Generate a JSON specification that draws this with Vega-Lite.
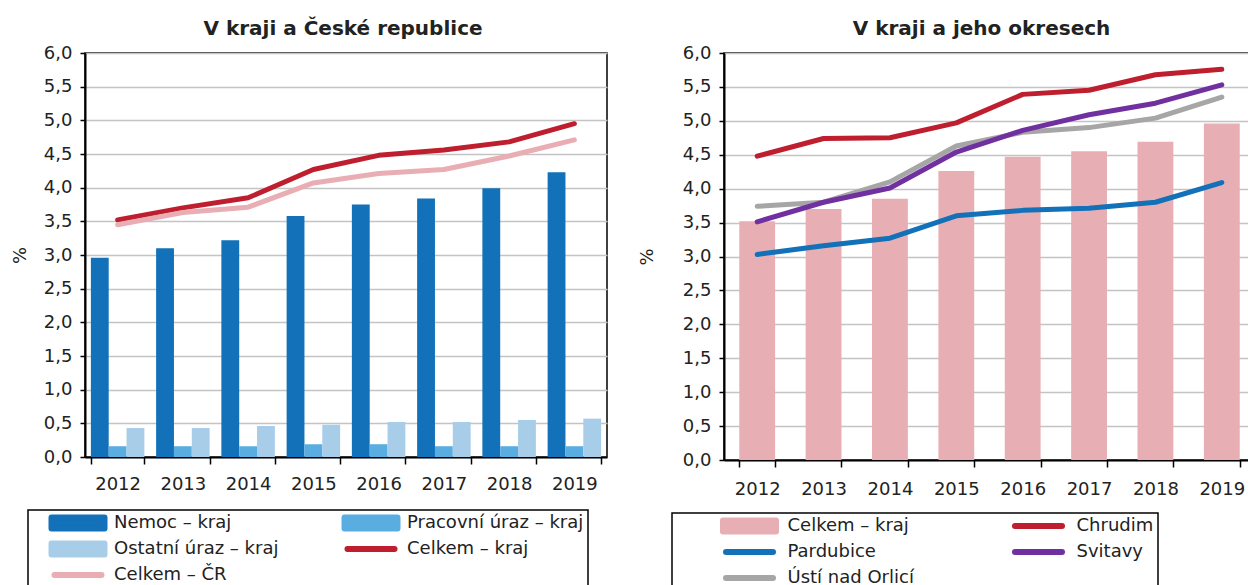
{
  "$schema": "https://vega.github.io/schema/vega-lite/v6.json",
  "background": "white",
  "padding": {"left": 10, "top": 18, "right": 0, "bottom": 0},
  "autosize": {"type": "pad"},
  "spacing": 29,
  "resolve": {"scale": {"color": "independent", "x": "independent", "y": "independent"}, "legend": {"color": "independent"}},
  "config": {
    "font": "DejaVu Sans",
    "view": {"stroke": "black", "strokeWidth": 1.5},
    "axis": {
      "labelFont": "DejaVu Sans", "labelFontSize": 18, "labelColor": "#222",
      "titleFont": "DejaVu Sans", "titleFontSize": 18, "titleFontWeight": "normal", "titleColor": "#222",
      "domainColor": "black", "domainWidth": 2, "tickColor": "black", "tickWidth": 1.5, "labelOverlap": false
    },
    "title": {"font": "DejaVu Sans", "fontSize": 20, "fontWeight": "bold", "color": "#222", "frame": "group", "anchor": "middle"},
    "legend": {"labelFont": "DejaVu Sans", "labelFontSize": 18, "labelColor": "#222", "labelLimit": 600, "labelBaseline": "middle"}
  },
  "datasets": {
    "leftBars": [
      {"rok": "2012", "ukazatel": "Nemoc – kraj", "hodnota": 2.96},
      {"rok": "2013", "ukazatel": "Nemoc – kraj", "hodnota": 3.10},
      {"rok": "2014", "ukazatel": "Nemoc – kraj", "hodnota": 3.22},
      {"rok": "2015", "ukazatel": "Nemoc – kraj", "hodnota": 3.58},
      {"rok": "2016", "ukazatel": "Nemoc – kraj", "hodnota": 3.75},
      {"rok": "2017", "ukazatel": "Nemoc – kraj", "hodnota": 3.84},
      {"rok": "2018", "ukazatel": "Nemoc – kraj", "hodnota": 3.99},
      {"rok": "2019", "ukazatel": "Nemoc – kraj", "hodnota": 4.23},
      {"rok": "2012", "ukazatel": "Pracovní úraz – kraj", "hodnota": 0.16},
      {"rok": "2013", "ukazatel": "Pracovní úraz – kraj", "hodnota": 0.16},
      {"rok": "2014", "ukazatel": "Pracovní úraz – kraj", "hodnota": 0.16},
      {"rok": "2015", "ukazatel": "Pracovní úraz – kraj", "hodnota": 0.19},
      {"rok": "2016", "ukazatel": "Pracovní úraz – kraj", "hodnota": 0.19},
      {"rok": "2017", "ukazatel": "Pracovní úraz – kraj", "hodnota": 0.16},
      {"rok": "2018", "ukazatel": "Pracovní úraz – kraj", "hodnota": 0.16},
      {"rok": "2019", "ukazatel": "Pracovní úraz – kraj", "hodnota": 0.16},
      {"rok": "2012", "ukazatel": "Ostatní úraz – kraj", "hodnota": 0.43},
      {"rok": "2013", "ukazatel": "Ostatní úraz – kraj", "hodnota": 0.43},
      {"rok": "2014", "ukazatel": "Ostatní úraz – kraj", "hodnota": 0.46},
      {"rok": "2015", "ukazatel": "Ostatní úraz – kraj", "hodnota": 0.48},
      {"rok": "2016", "ukazatel": "Ostatní úraz – kraj", "hodnota": 0.52},
      {"rok": "2017", "ukazatel": "Ostatní úraz – kraj", "hodnota": 0.52},
      {"rok": "2018", "ukazatel": "Ostatní úraz – kraj", "hodnota": 0.55},
      {"rok": "2019", "ukazatel": "Ostatní úraz – kraj", "hodnota": 0.57}
    ],
    "leftLines": [
      {"rok": "2012", "ukazatel": "Celkem – kraj", "hodnota": 3.52},
      {"rok": "2013", "ukazatel": "Celkem – kraj", "hodnota": 3.70},
      {"rok": "2014", "ukazatel": "Celkem – kraj", "hodnota": 3.85},
      {"rok": "2015", "ukazatel": "Celkem – kraj", "hodnota": 4.27},
      {"rok": "2016", "ukazatel": "Celkem – kraj", "hodnota": 4.48},
      {"rok": "2017", "ukazatel": "Celkem – kraj", "hodnota": 4.56},
      {"rok": "2018", "ukazatel": "Celkem – kraj", "hodnota": 4.68},
      {"rok": "2019", "ukazatel": "Celkem – kraj", "hodnota": 4.95},
      {"rok": "2012", "ukazatel": "Celkem – ČR", "hodnota": 3.45},
      {"rok": "2013", "ukazatel": "Celkem – ČR", "hodnota": 3.63},
      {"rok": "2014", "ukazatel": "Celkem – ČR", "hodnota": 3.71},
      {"rok": "2015", "ukazatel": "Celkem – ČR", "hodnota": 4.07},
      {"rok": "2016", "ukazatel": "Celkem – ČR", "hodnota": 4.21},
      {"rok": "2017", "ukazatel": "Celkem – ČR", "hodnota": 4.27},
      {"rok": "2018", "ukazatel": "Celkem – ČR", "hodnota": 4.47},
      {"rok": "2019", "ukazatel": "Celkem – ČR", "hodnota": 4.71}
    ],
    "rightBars": [
      {"rok": "2012", "ukazatel": "Celkem – kraj", "hodnota": 3.52},
      {"rok": "2013", "ukazatel": "Celkem – kraj", "hodnota": 3.70},
      {"rok": "2014", "ukazatel": "Celkem – kraj", "hodnota": 3.85},
      {"rok": "2015", "ukazatel": "Celkem – kraj", "hodnota": 4.26},
      {"rok": "2016", "ukazatel": "Celkem – kraj", "hodnota": 4.47},
      {"rok": "2017", "ukazatel": "Celkem – kraj", "hodnota": 4.55},
      {"rok": "2018", "ukazatel": "Celkem – kraj", "hodnota": 4.69},
      {"rok": "2019", "ukazatel": "Celkem – kraj", "hodnota": 4.96}
    ],
    "rightLines": [
      {"rok": "2012", "ukazatel": "Chrudim", "hodnota": 4.48},
      {"rok": "2013", "ukazatel": "Chrudim", "hodnota": 4.74},
      {"rok": "2014", "ukazatel": "Chrudim", "hodnota": 4.75},
      {"rok": "2015", "ukazatel": "Chrudim", "hodnota": 4.97},
      {"rok": "2016", "ukazatel": "Chrudim", "hodnota": 5.39},
      {"rok": "2017", "ukazatel": "Chrudim", "hodnota": 5.45},
      {"rok": "2018", "ukazatel": "Chrudim", "hodnota": 5.68},
      {"rok": "2019", "ukazatel": "Chrudim", "hodnota": 5.76},
      {"rok": "2012", "ukazatel": "Pardubice", "hodnota": 3.03},
      {"rok": "2013", "ukazatel": "Pardubice", "hodnota": 3.16},
      {"rok": "2014", "ukazatel": "Pardubice", "hodnota": 3.27},
      {"rok": "2015", "ukazatel": "Pardubice", "hodnota": 3.60},
      {"rok": "2016", "ukazatel": "Pardubice", "hodnota": 3.68},
      {"rok": "2017", "ukazatel": "Pardubice", "hodnota": 3.71},
      {"rok": "2018", "ukazatel": "Pardubice", "hodnota": 3.80},
      {"rok": "2019", "ukazatel": "Pardubice", "hodnota": 4.09},
      {"rok": "2012", "ukazatel": "Ústí nad Orlicí", "hodnota": 3.74},
      {"rok": "2013", "ukazatel": "Ústí nad Orlicí", "hodnota": 3.80},
      {"rok": "2014", "ukazatel": "Ústí nad Orlicí", "hodnota": 4.10},
      {"rok": "2015", "ukazatel": "Ústí nad Orlicí", "hodnota": 4.63},
      {"rok": "2016", "ukazatel": "Ústí nad Orlicí", "hodnota": 4.83},
      {"rok": "2017", "ukazatel": "Ústí nad Orlicí", "hodnota": 4.90},
      {"rok": "2018", "ukazatel": "Ústí nad Orlicí", "hodnota": 5.04},
      {"rok": "2019", "ukazatel": "Ústí nad Orlicí", "hodnota": 5.35},
      {"rok": "2012", "ukazatel": "Svitavy", "hodnota": 3.51},
      {"rok": "2013", "ukazatel": "Svitavy", "hodnota": 3.80},
      {"rok": "2014", "ukazatel": "Svitavy", "hodnota": 4.01},
      {"rok": "2015", "ukazatel": "Svitavy", "hodnota": 4.54},
      {"rok": "2016", "ukazatel": "Svitavy", "hodnota": 4.86},
      {"rok": "2017", "ukazatel": "Svitavy", "hodnota": 5.09},
      {"rok": "2018", "ukazatel": "Svitavy", "hodnota": 5.26},
      {"rok": "2019", "ukazatel": "Svitavy", "hodnota": 5.53}
    ]
  },
  "hconcat": [
    {
      "title": {"text": "V kraji a České republice", "offset": 5, "dx": -3},
      "width": 522,
      "height": 404,
      "encoding": {
        "x": {
          "field": "rok", "type": "nominal",
          "scale": {"paddingInner": 0.18, "paddingOuter": 0.09},
          "axis": {"title": null, "labelAngle": 0, "tickBand": "extent", "tickSize": 7, "labelPadding": 11}
        },
        "y": {
          "field": "hodnota", "type": "quantitative",
          "scale": {"domain": [0, 6], "nice": false},
          "axis": {
            "title": "%", "titlePadding": 14,
            "values": [0, 0.5, 1, 1.5, 2, 2.5, 3, 3.5, 4, 4.5, 5, 5.5, 6],
            "tickCount": 20,
            "labelExpr": "replace(format(datum.value, '.1f'), '.', ',')",
            "grid": true, "gridColor": "#c4c4c4", "gridWidth": 1.5,
            "tickSize": 5, "labelPadding": 8
          }
        },
        "color": {
          "field": "ukazatel", "type": "nominal",
          "scale": {
            "domain": ["Nemoc – kraj", "Pracovní úraz – kraj", "Ostatní úraz – kraj", "Celkem – kraj", "Celkem – ČR"],
            "range": ["#1271b8", "#5aade0", "#a7cde9", "#be1e2d", "#e8aeb3"]
          },
          "legend": {
            "title": null,
            "orient": "none", "legendX": -57, "legendY": 457,
            "direction": "horizontal",
            "columns": 2, "columnPadding": 46, "rowPadding": 8,
            "padding": 4, "strokeColor": "black",
            "symbolSize": 100, "symbolStrokeWidth": 6,
            "symbolOffset": 37, "labelOffset": 27,
            "labelExpr": "indexof(['Pracovní úraz – kraj','Celkem – kraj'], datum.label) >= 0 ? datum.label + '\u00a0\u00a0\u00a0' : datum.label",
            "encoding": {
              "legend": {"strokeWidth": {"value": 1.5}},
              "symbols": {
                "shape": {"value": {"expr": "indexof(['Celkem – kraj','Celkem – ČR'], datum.value) >= 0 ? 'M-4.7,0L4.7,0' : 'M-5.3,-1.1H5.3V1.1H-5.3Z'"}},
                "fill": {"value": {"expr": "indexof(['Celkem – kraj','Celkem – ČR'], datum.value) >= 0 ? 'transparent' : ['#1271b8','#5aade0','#a7cde9','#be1e2d','#e8aeb3'][indexof(['Nemoc – kraj','Pracovní úraz – kraj','Ostatní úraz – kraj','Celkem – kraj','Celkem – ČR'], datum.value)]"}},
                "stroke": {"value": {"expr": "indexof(['Celkem – kraj','Celkem – ČR'], datum.value) >= 0 ? ['#1271b8','#5aade0','#a7cde9','#be1e2d','#e8aeb3'][indexof(['Nemoc – kraj','Pracovní úraz – kraj','Ostatní úraz – kraj','Celkem – kraj','Celkem – ČR'], datum.value)] : 'transparent'"}},
                "strokeWidth": {"value": 6},
                "strokeCap": {"value": "round"},
                "strokeJoin": {"value": "round"},
                "opacity": {"value": 1}
              }
            }
          }
        }
      },
      "layer": [
        {
          "data": {"name": "leftBars"},
          "mark": {"type": "bar"},
          "encoding": {
            "xOffset": {
              "field": "ukazatel", "type": "nominal",
              "scale": {"domain": ["Nemoc – kraj", "Pracovní úraz – kraj", "Ostatní úraz – kraj"], "paddingInner": 0, "paddingOuter": 0}
            }
          }
        },
        {
          "data": {"name": "leftLines"},
          "mark": {"type": "line", "strokeWidth": 5, "strokeCap": "round", "strokeJoin": "round"}
        }
      ]
    },
    {
      "title": {"text": "V kraji a jeho okresech", "offset": 5, "dx": -8},
      "width": 531,
      "height": 407,
      "encoding": {
        "x": {
          "field": "rok", "type": "nominal",
          "scale": {"paddingInner": 0.46, "paddingOuter": 0.23},
          "axis": {"title": null, "labelAngle": 0, "tickBand": "extent", "tickSize": 7, "labelPadding": 13}
        },
        "y": {
          "field": "hodnota", "type": "quantitative",
          "scale": {"domain": [0, 6], "nice": false},
          "axis": {
            "title": "%", "titlePadding": 26,
            "values": [0, 0.5, 1, 1.5, 2, 2.5, 3, 3.5, 4, 4.5, 5, 5.5, 6],
            "tickCount": 20,
            "labelExpr": "replace(format(datum.value, '.1f'), '.', ',')",
            "grid": true, "gridColor": "#c4c4c4", "gridWidth": 1.5,
            "tickSize": 5, "labelPadding": 8
          }
        },
        "color": {
          "field": "ukazatel", "type": "nominal",
          "scale": {
            "domain": ["Celkem – kraj", "Chrudim", "Pardubice", "Svitavy", "Ústí nad Orlicí"],
            "range": ["#e7afb3", "#be1e2d", "#1271b8", "#7030a0", "#a6a6a6"]
          },
          "legend": {
            "title": null,
            "orient": "none", "legendX": -52, "legendY": 460,
            "direction": "horizontal",
            "columns": 2, "columnPadding": 51, "rowPadding": 8,
            "padding": 4, "strokeColor": "black",
            "symbolSize": 100, "symbolStrokeWidth": 6,
            "symbolOffset": 64.5, "labelOffset": 29,
            "labelExpr": "indexof(['Chrudim','Svitavy'], datum.label) >= 0 ? datum.label + '\u00a0\u00a0\u00a0\u00a0\u00a0\u00a0\u00a0\u00a0\u00a0\u00a0\u00a0\u00a0\u00a0\u00a0\u00a0\u00a0\u00a0\u00a0' : datum.label",
            "encoding": {
              "legend": {"strokeWidth": {"value": 1.5}},
              "symbols": {
                "shape": {"value": {"expr": "datum.value != 'Celkem – kraj' ? 'M-4.7,0L4.7,0' : 'M-5.3,-1.1H5.3V1.1H-5.3Z'"}},
                "fill": {"value": {"expr": "datum.value != 'Celkem – kraj' ? 'transparent' : '#e7afb3'"}},
                "stroke": {"value": {"expr": "datum.value != 'Celkem – kraj' ? ['#e7afb3','#be1e2d','#1271b8','#7030a0','#a6a6a6'][indexof(['Celkem – kraj','Chrudim','Pardubice','Svitavy','Ústí nad Orlicí'], datum.value)] : 'transparent'"}},
                "strokeWidth": {"value": 6},
                "strokeCap": {"value": "round"},
                "strokeJoin": {"value": "round"},
                "opacity": {"value": 1}
              }
            }
          }
        }
      },
      "layer": [
        {
          "data": {"name": "rightBars"},
          "mark": {"type": "bar"}
        },
        {
          "data": {"name": "rightLines"},
          "mark": {"type": "line", "strokeWidth": 5, "strokeCap": "round", "strokeJoin": "round"}
        }
      ]
    }
  ]
}
